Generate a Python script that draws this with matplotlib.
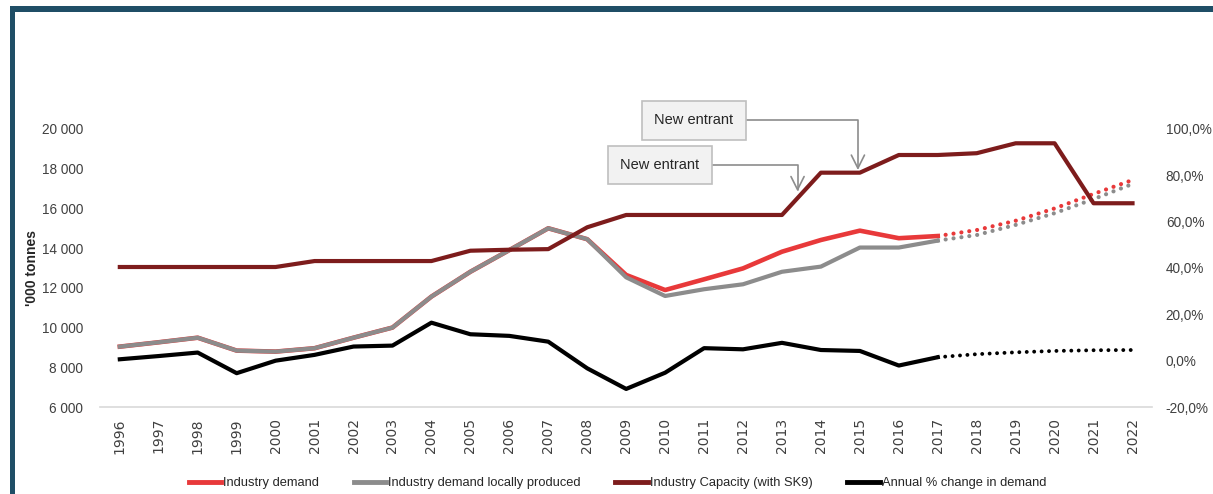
import matplotlib
matplotlib.use('Agg')

import numpy as np
import matplotlib.pyplot as plt
from matplotlib.lines import Line2D
from matplotlib.patches import Rectangle

plt.rcParams['font.family'] = ['Liberation Sans', 'DejaVu Sans']

RED, GREY, DARK_RED, FRAME = '#e8393a', '#8c8c8c', '#7d1c1c', '#1f4e66'

years = np.arange(1996, 2023)
hist_years = np.arange(1996, 2018)
fcst_years = np.arange(2017, 2023)

# '000 tonnes
demand = [9040, 9260, 9490, 8840, 8790, 8960, 9490, 10000, 11560, 12810, 13900, 15000,
          14450, 12650, 11890, 12430, 12980, 13820, 14410, 14880, 14500, 14610]
demand_fcst = [14610, 14910, 15380, 16000, 16730, 17430]
local = [9040, 9260, 9490, 8840, 8790, 8960, 9490, 10000, 11560, 12810, 13900, 15000,
         14450, 12530, 11590, 11930, 12180, 12810, 13070, 14030, 14030, 14380]
local_fcst = [14380, 14660, 15170, 15760, 16470, 17230]
capacity = [13050, 13050, 13050, 13050, 13050, 13350, 13350, 13350, 13350, 13870, 13920,
            13950, 15050, 15670, 15670, 15670, 15670, 15670, 17800, 17800, 18690, 18690,
            18780, 19280, 19280, 16260, 16260]
# annual % change in demand
pct_change = [0.6, 2.0, 3.5, -5.4, 0.0, 2.5, 6.1, 6.5, 16.4, 11.4, 10.7, 8.2, -3.3, -12.2,
              -5.2, 5.4, 4.9, 7.7, 4.6, 4.2, -2.1, 1.5]
pct_fcst = [1.5, 2.8, 3.6, 4.2, 4.5, 4.6]

fig = plt.figure(figsize=(12.13, 4.94), dpi=100)
ax = fig.add_axes([0.0824, 0.1761, 0.8673, 0.5628])
ax2 = ax.twinx()

dots = dict(dashes=(0.01, 1.9), dash_capstyle='round')
ax.plot(hist_years, demand, color=RED, lw=3.3, zorder=3)
ax.plot(fcst_years, demand_fcst, color=RED, lw=3.0, zorder=4, **dots)
ax.plot(hist_years, local, color=GREY, lw=3.0, zorder=4)
ax.plot(fcst_years, local_fcst, color=GREY, lw=3.0, zorder=3, **dots)
ax.plot(years, capacity, color=DARK_RED, lw=3.0, zorder=5)
ax2.plot(hist_years, pct_change, color='black', lw=3.0)
ax2.plot(fcst_years, pct_fcst, color='black', lw=2.8, **dots)

ax.set_xlim(1995.49, 2022.5)
ax.set_ylim(6000, 20000)
ax.set_yticks(np.arange(6000, 20001, 2000))
ax.set_yticklabels([f'{v:,}'.replace(',', ' ') for v in range(6000, 20001, 2000)])
ax2.set_ylim(-20, 100)
ax2.set_yticks(np.arange(-20, 101, 20))
ax2.set_yticklabels([f'{v:.1f}%'.replace('.', ',') for v in range(-20, 101, 20)])
ax.set_xticks(years)
ax.set_xticklabels([str(y) for y in years], rotation=90, fontsize=10,
                   family='DejaVu Sans', color='#404040')

for a in (ax, ax2):
    for s in a.spines.values():
        s.set_visible(False)
    a.tick_params(length=0, labelsize=9.8, colors='#404040')
ax.spines['bottom'].set_visible(True)
ax.spines['bottom'].set_color('#d9d9d9')
ax.spines['bottom'].set_linewidth(1.2)
ax.tick_params(axis='y', pad=12)
ax2.tick_params(axis='y', pad=10)
ax.tick_params(axis='x', pad=8, labelsize=10)
ax.set_ylabel("'000 tonnes", fontsize=10, fontweight='bold', color='#262626')
ax.yaxis.set_label_coords(-0.058, 0.5)

# capacity additions
box = dict(boxstyle='square,pad=0.85', fc='#f2f2f2', ec='#bfbfbf', lw=1.2)
arrow = dict(arrowstyle='->,head_length=0.9,head_width=0.45', color=GREY, lw=1.2,
             shrinkA=0, shrinkB=0, connectionstyle='angle,angleA=0,angleB=90,rad=0')
ax.annotate('New entrant', xy=(2014.95, 17930), xytext=(2010.73, 20430), fontsize=10.5,
            ha='center', va='center', bbox=box, arrowprops=arrow, annotation_clip=False,
            color='#262626')
ax.annotate('New entrant', xy=(2013.4, 16850), xytext=(2009.86, 18190), fontsize=10.5,
            ha='center', va='center', bbox=box, arrowprops=arrow, annotation_clip=False,
            color='#262626')

handles = [Line2D([], [], color=c, lw=3.5) for c in (RED, GREY, DARK_RED, 'black')]
labels = ['Industry demand', 'Industry demand locally produced',
          'Industry Capacity (with SK9)', 'Annual % change in demand']
fig.legend(handles, labels, loc='center', bbox_to_anchor=(0.509, 0.022), ncol=4,
           frameon=False, fontsize=9.3, handlelength=2.5, handletextpad=0.15,
           columnspacing=2.7, labelcolor='#262626')

# slide frame
fig.add_artist(Rectangle((0.0085, -0.1), 0.004, 1.08, transform=fig.transFigure,
                         color=FRAME, lw=0))
fig.add_artist(Rectangle((0.0085, 0.976), 1.0, 0.011, transform=fig.transFigure,
                         color=FRAME, lw=0))

fig.savefig('out.png', dpi=100)
